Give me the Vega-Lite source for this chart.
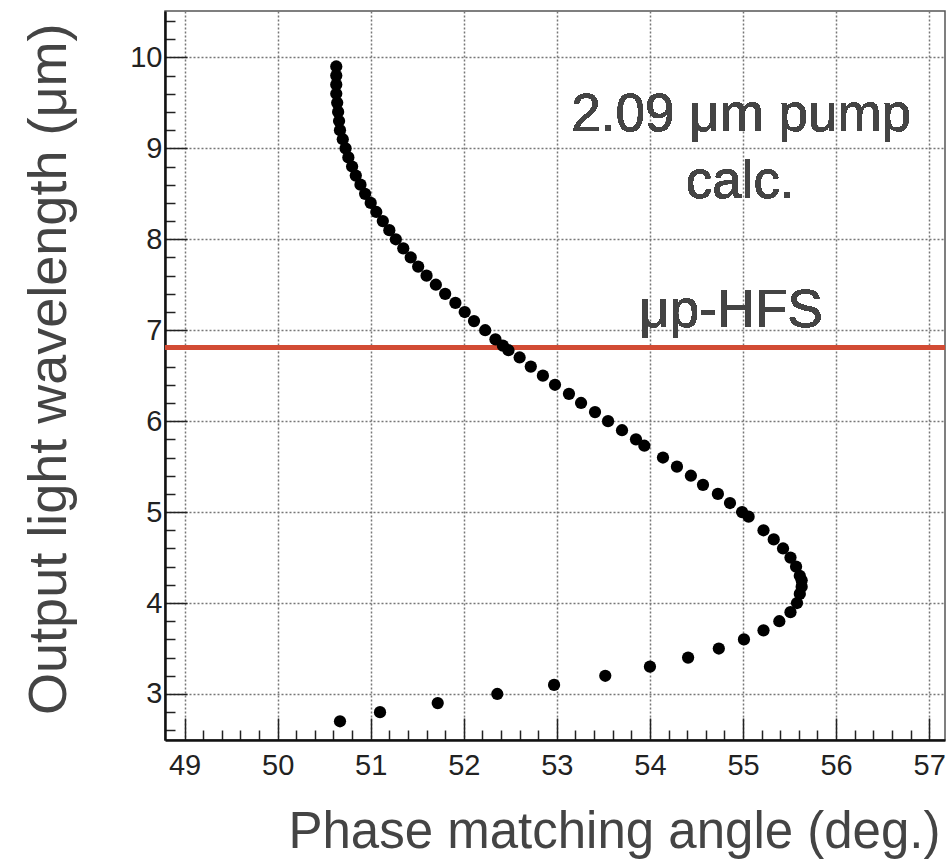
{
  "$schema": "https://vega.github.io/schema/vega-lite/v6.json",
  "autosize": {"type": "none"},
  "padding": {"left": 165, "top": 11, "right": 5, "bottom": 122},
  "width": 780,
  "height": 729,
  "background": "white",
  "config": {
    "font": "Liberation Sans",
    "view": {"stroke": "#555555", "strokeWidth": 1.5}
  },
  "data": {
    "values": [
      {"a": 50.63, "w": 9.9}, {"a": 50.63, "w": 9.8}, {"a": 50.63, "w": 9.7}, {"a": 50.63, "w": 9.6},
      {"a": 50.64, "w": 9.5}, {"a": 50.65, "w": 9.4}, {"a": 50.66, "w": 9.3}, {"a": 50.67, "w": 9.2},
      {"a": 50.70, "w": 9.1}, {"a": 50.73, "w": 9.0}, {"a": 50.76, "w": 8.9}, {"a": 50.80, "w": 8.8},
      {"a": 50.84, "w": 8.7}, {"a": 50.89, "w": 8.6}, {"a": 50.94, "w": 8.5}, {"a": 51.00, "w": 8.4},
      {"a": 51.06, "w": 8.3}, {"a": 51.13, "w": 8.2}, {"a": 51.20, "w": 8.1}, {"a": 51.27, "w": 8.0},
      {"a": 51.35, "w": 7.9}, {"a": 51.43, "w": 7.8}, {"a": 51.51, "w": 7.7}, {"a": 51.60, "w": 7.6},
      {"a": 51.70, "w": 7.5}, {"a": 51.80, "w": 7.4}, {"a": 51.91, "w": 7.3}, {"a": 52.01, "w": 7.2},
      {"a": 52.11, "w": 7.1}, {"a": 52.23, "w": 7.0}, {"a": 52.34, "w": 6.9}, {"a": 52.42, "w": 6.83},
      {"a": 52.48, "w": 6.78}, {"a": 52.60, "w": 6.7}, {"a": 52.72, "w": 6.6}, {"a": 52.85, "w": 6.5},
      {"a": 52.98, "w": 6.4}, {"a": 53.13, "w": 6.3}, {"a": 53.26, "w": 6.2}, {"a": 53.41, "w": 6.1},
      {"a": 53.55, "w": 6.0}, {"a": 53.70, "w": 5.9}, {"a": 53.85, "w": 5.8}, {"a": 53.94, "w": 5.73},
      {"a": 54.14, "w": 5.6}, {"a": 54.29, "w": 5.5}, {"a": 54.44, "w": 5.4}, {"a": 54.57, "w": 5.3},
      {"a": 54.73, "w": 5.2}, {"a": 54.86, "w": 5.1}, {"a": 54.99, "w": 5.0}, {"a": 55.06, "w": 4.95},
      {"a": 55.22, "w": 4.8}, {"a": 55.33, "w": 4.7}, {"a": 55.43, "w": 4.6}, {"a": 55.51, "w": 4.5},
      {"a": 55.57, "w": 4.4}, {"a": 55.61, "w": 4.3}, {"a": 55.63, "w": 4.25}, {"a": 55.63, "w": 4.18},
      {"a": 55.61, "w": 4.1}, {"a": 55.58, "w": 4.0}, {"a": 55.51, "w": 3.9}, {"a": 55.39, "w": 3.8},
      {"a": 55.22, "w": 3.7}, {"a": 55.01, "w": 3.6}, {"a": 54.74, "w": 3.5}, {"a": 54.41, "w": 3.4},
      {"a": 54.00, "w": 3.3}, {"a": 53.52, "w": 3.2}, {"a": 52.97, "w": 3.1}, {"a": 52.36, "w": 3.0},
      {"a": 51.72, "w": 2.9}, {"a": 51.10, "w": 2.8}, {"a": 50.67, "w": 2.7}
    ]
  },
  "encoding": {
    "x": {
      "field": "a",
      "type": "quantitative",
      "scale": {"domain": [48.79, 57.17], "nice": false, "zero": false},
      "axis": {
        "title": "Phase matching angle (deg.)",
        "titleFont": "Liberation Sans",
        "titleFontSize": 51,
        "titleFontWeight": "normal",
        "titleColor": "#444444",
        "titleAlign": "right",
        "titleBaseline": "alphabetic",
        "titleX": 775,
        "titleY": 107,
        "values": [49, 49.2, 49.4, 49.6, 49.8, 50, 50.2, 50.4, 50.6, 50.8, 51, 51.2, 51.4, 51.6, 51.8, 52, 52.2, 52.4, 52.6, 52.8, 53, 53.2, 53.4, 53.6, 53.8, 54, 54.2, 54.4, 54.6, 54.8, 55, 55.2, 55.4, 55.6, 55.8, 56, 56.2, 56.4, 56.6, 56.8, 57],
        "labelExpr": "abs(datum.value - round(datum.value)) < 0.001 ? format(datum.value, 'd') : ''",
        "labelFontSize": 29,
        "labelColor": "#222222",
        "labelPadding": 33,
        "labelFlush": false,
        "labelOverlap": false,
        "domainColor": "#111111",
        "domainWidth": 2.5,
        "tickColor": "#222222",
        "tickWidth": 1.5,
        "tickSize": {"condition": {"test": "abs(datum.value - round(datum.value)) < 0.001", "value": -22}, "value": -10},
        "grid": true,
        "gridColor": "#777777",
        "gridWidth": 1.5,
        "gridDash": [2, 2],
        "gridOpacity": {"condition": {"test": "abs(datum.value - round(datum.value)) < 0.001", "value": 1}, "value": 0}
      }
    },
    "y": {
      "field": "w",
      "type": "quantitative",
      "scale": {"domain": [2.494, 10.51], "nice": false, "zero": false},
      "axis": {
        "title": "Output light wavelength (μm)",
        "titleFont": "Liberation Sans",
        "titleFontSize": 54,
        "titleFontWeight": "normal",
        "titleColor": "#444444",
        "titleAngle": 270,
        "titleAlign": "right",
        "titleBaseline": "alphabetic",
        "titleX": -100,
        "titleY": 12,
        "values": [2.6, 2.8, 3, 3.2, 3.4, 3.6, 3.8, 4, 4.2, 4.4, 4.6, 4.8, 5, 5.2, 5.4, 5.6, 5.8, 6, 6.2, 6.4, 6.6, 6.8, 7, 7.2, 7.4, 7.6, 7.8, 8, 8.2, 8.4, 8.6, 8.8, 9, 9.2, 9.4, 9.6, 9.8, 10, 10.2, 10.4],
        "labelExpr": "abs(datum.value - round(datum.value)) < 0.001 ? format(datum.value, 'd') : ''",
        "labelFontSize": 29,
        "labelColor": "#222222",
        "labelPadding": 25,
        "labelFlush": false,
        "labelOverlap": false,
        "domainColor": "#111111",
        "domainWidth": 2.5,
        "tickColor": "#222222",
        "tickWidth": 1.5,
        "tickSize": {"condition": {"test": "abs(datum.value - round(datum.value)) < 0.001", "value": -22}, "value": -10},
        "grid": true,
        "gridColor": "#777777",
        "gridWidth": 1.5,
        "gridDash": [2, 2],
        "gridOpacity": {"condition": {"test": "abs(datum.value - round(datum.value)) < 0.001", "value": 1}, "value": 0}
      }
    }
  },
  "layer": [
    {
      "mark": {"type": "rule", "color": "#d24b34", "strokeWidth": 4.5},
      "encoding": {"y": {"datum": 6.81}, "x": null}
    },
    {
      "mark": {"type": "circle", "color": "black", "opacity": 1, "size": 150}
    },
    {
      "mark": {"type": "text", "text": "2.09 μm pump", "fontSize": 53, "color": "#444444", "align": "center", "baseline": "alphabetic", "font": "Liberation Sans"},
      "encoding": {"x": {"datum": 54.98}, "y": {"datum": 9.19}}
    },
    {
      "mark": {"type": "text", "text": "calc.", "fontSize": 53, "color": "#444444", "align": "center", "baseline": "alphabetic", "font": "Liberation Sans"},
      "encoding": {"x": {"datum": 54.97}, "y": {"datum": 8.45}}
    },
    {
      "mark": {"type": "text", "text": "μp-HFS", "fontSize": 53, "color": "#444444", "align": "center", "baseline": "alphabetic", "font": "Liberation Sans"},
      "encoding": {"x": {"datum": 54.87}, "y": {"datum": 7.04}}
    }
  ]
}
